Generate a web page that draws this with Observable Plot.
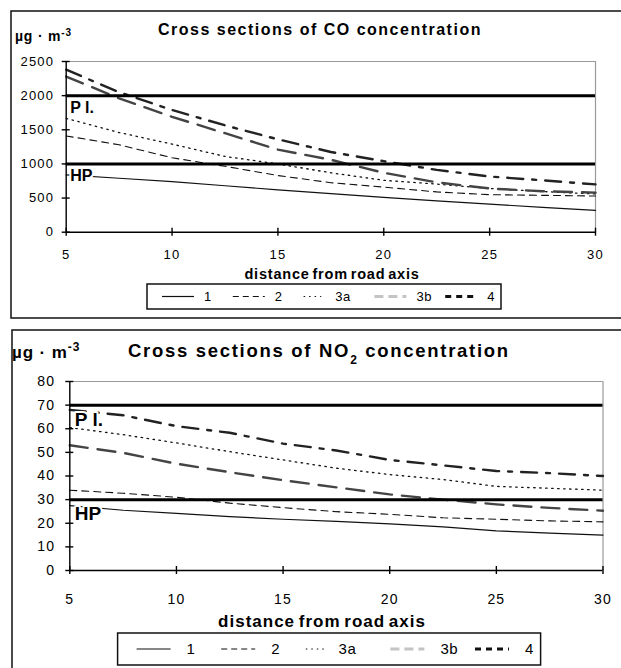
<!DOCTYPE html>
<html>
<head>
<meta charset="utf-8">
<script src="https://cdn.jsdelivr.net/npm/d3@7"></script>
<script src="https://cdn.jsdelivr.net/npm/@observablehq/plot@0.6"></script>
<style>
  html, body { margin: 0; padding: 0; background: #fff; }
  body { width: 621px; height: 668px; overflow: hidden; position: relative;
         font-family: "Liberation Sans", Arial, sans-serif; }
  .chart { position: absolute; left: 0; }
  #overlay { position: absolute; left: 0; top: 0; pointer-events: none; }
  .chart [aria-label="x-axis tick label"] text,
  .chart [aria-label="y-axis tick label"] text { letter-spacing: 1.2px; }
</style>
</head>
<body>
<div id="co" class="chart" style="top:0px"></div>
<div id="no2" class="chart" style="top:330px"></div>
<svg id="overlay" width="621" height="668"></svg>
<script>
// ---------------- data ----------------
const distance = [5, 7.5, 10, 12.5, 15, 17.5, 20, 22.5, 25, 27.5, 30];
const seriesNames = ["1", "2", "3a", "3b", "4"];

// CO concentration (µg·m-3)
const co_1  = [840, 790, 740, 680, 620, 565, 510, 460, 410, 365, 320];
const co_2  = [1410, 1280, 1090, 965, 830, 725, 660, 590, 550, 540, 530];
const co_3a = [1667, 1460, 1290, 1110, 1000, 870, 760, 705, 640, 595, 560];
const co_3b = [2280, 1960, 1690, 1450, 1210, 1060, 870, 730, 640, 600, 580];
const co_4  = [2380, 2050, 1790, 1565, 1360, 1175, 1040, 912, 815, 760, 700];

// NO2 concentration (µg·m-3)
const no2_1  = [27.5, 25.5, 24.2, 22.8, 21.7, 20.8, 19.7, 18.5, 16.8, 15.8, 15];
const no2_2  = [34, 32.7, 31, 28.5, 26.6, 24.9, 23.8, 22.3, 21.7, 21, 20.6];
const no2_3a = [60.5, 57.5, 54, 50.3, 46.8, 43.3, 40.6, 38.5, 35.6, 34.8, 34];
const no2_3b = [53, 49.8, 45.2, 41.6, 38.2, 35.2, 32.2, 30, 28, 26.5, 25.3];
const no2_4  = [68, 65.7, 61.1, 58.3, 53.7, 50.8, 46.8, 44.5, 42.1, 41.2, 40];

// limit lines
const limitLabels = ["P l.", "HP"];
const coLimits = [2000, 1000];
const no2Limits = [70, 30];

// ticks
const xTicks = [5, 10, 15, 20, 25, 30];
const coYTicks = [0, 500, 1000, 1500, 2000, 2500];
const no2YTicks = [0, 10, 20, 30, 40, 50, 60, 70, 80];

// ---------------- styles ----------------
const lineStyle = {
  "1":  {stroke: "#111", strokeWidth: 1.2},
  "2":  {stroke: "#111", strokeWidth: 1.1, strokeDasharray: "7,5"},
  "3a": {stroke: "#111", strokeWidth: 1.3, strokeDasharray: "1.5,4.5"},
  "3b": {stroke: "#444", strokeWidth: 2.4, strokeDasharray: "18,10"},
  "4":  {stroke: "#222", strokeWidth: 2.4, strokeDasharray: "16,9,4,9"}
};
const legendStyle = {
  "1":  {stroke: "#111", strokeWidth: 1.2, dash: null},
  "2":  {stroke: "#111", strokeWidth: 1.2, dash: "6,4"},
  "3a": {stroke: "#111", strokeWidth: 1.2, dash: "1.5,4"},
  "3b": {stroke: "#c4c4c4", strokeWidth: 3, dash: "9,5"},
  "4":  {stroke: "#111", strokeWidth: 3, dash: "6,5"}
};

function tidy(arrays) {
  return seriesNames.flatMap((name, i) =>
    distance.map((d, j) => ({series: name, distance: d, value: arrays[i][j]})));
}

const plain = d3.format("d");

function panel(el, cfg) {
  const rows = tidy(cfg.series);
  const limits = cfg.limits.map((v, i) => ({value: v, label: limitLabels[i]}));
  const marks = [
    Plot.ruleY([cfg.yMax], {stroke: "#999", strokeWidth: 1.2}),
    Plot.ruleX([30], {stroke: "#999", strokeWidth: 1.2}),
    ...seriesNames.map(n => Plot.line(rows.filter(r => r.series === n),
        {x: "distance", y: "value", ...lineStyle[n]})),
    Plot.ruleY(limits, {y: "value", strokeWidth: 3, stroke: "#000"}),
    Plot.text(limits, {y: "value", text: "label", frameAnchor: "left", dx: cfg.labelDx, dy: cfg.labelDy,
        textAnchor: "start", lineAnchor: "top", fontWeight: "bold", fontSize: cfg.labelSize, fill: "#000",
        stroke: "#fff", strokeWidth: 4}),
    Plot.ruleX([5], {stroke: "#000", strokeWidth: 1.4}),
    Plot.ruleY([0], {stroke: "#000", strokeWidth: 1.4}),
    Plot.axisX({ticks: xTicks, tickSize: 8, dy: -4, fill: "none", strokeWidth: 1.4, label: null}),
    Plot.axisY({ticks: cfg.yTicks, tickSize: 8, dx: 4, fill: "none", strokeWidth: 1.4, label: null}),
    Plot.axisX({ticks: xTicks, tickSize: 0, tickPadding: cfg.xPad, fontSize: cfg.tickSize, label: null,
        fill: "#000", tickFormat: plain}),
    Plot.axisY({ticks: cfg.yTicks, tickSize: 0, tickPadding: cfg.yPad, fontSize: cfg.tickSize, label: null,
        fill: "#000", tickFormat: plain})
  ];
  const chart = Plot.plot({
    width: 621, height: cfg.height,
    marginLeft: cfg.mL, marginRight: cfg.mR, marginTop: cfg.mT, marginBottom: cfg.mB,
    style: {background: "transparent", fontFamily: "Liberation Sans, Arial, sans-serif", fontSize: cfg.tickSize + "px", color: "#000"},
    x: {domain: [5, 30]},
    y: {domain: [0, cfg.yMax]},
    marks
  });
  document.getElementById(el).appendChild(chart);
}

panel("co", {
  series: [co_1, co_2, co_3a, co_3b, co_4], limits: coLimits, yTicks: coYTicks, yMax: 2500,
  height: 290, mL: 65.7, mR: 26, mT: 61, mB: 58.3,
  xPad: 18, yPad: 12, tickSize: 13, labelDx: 4, labelDy: 5.5, labelSize: 16
});
panel("no2", {
  series: [no2_1, no2_2, no2_3a, no2_3b, no2_4], limits: no2Limits, yTicks: no2YTicks, yMax: 80,
  height: 338, mL: 69.3, mR: 18.5, mT: 51, mB: 98,
  xPad: 24, yPad: 14.5, tickSize: 14, labelDx: 5, labelDy: 7, labelSize: 19
});

// ---------------- overlay: frames, titles, units, axis titles, legends ----------------
const svg = d3.select("#overlay");
const ff = "Liberation Sans, Arial, sans-serif";

function frame(x, y, w, h) {
  svg.append("rect").attr("x", x).attr("y", y).attr("width", w).attr("height", h)
    .attr("fill", "none").attr("stroke", "#111").attr("stroke-width", 1.5);
}
frame(11, 11, 640, 307);
frame(12, 330, 640, 360);

function title(x, y, size, ls, parts) {
  const t = svg.append("text").attr("x", x).attr("y", y).attr("font-family", ff)
    .attr("font-weight", "bold").attr("font-size", size).style("letter-spacing", ls + "px");
  parts.forEach(p => {
    const s = t.append("tspan").text(p.text);
    if (p.shift) s.attr("baseline-shift", p.shift).attr("font-size", p.size);
  });
}
title(158, 35, 16, 1.5, [{text: "Cross sections of CO concentration"}]);
title(128, 357, 18.5, 1.7, [{text: "Cross sections of NO"}, {text: "2", shift: "sub", size: 12}, {text: " concentration"}]);
title(15, 41, 14, 0.8, [{text: "µg · m"}, {text: "-3", shift: "super", size: 10}]);
title(12, 358, 17, 0.9, [{text: "µg · m"}, {text: "-3", shift: "super", size: 12}]);

function axisTitle(cx, y, size, ls, text) {
  svg.append("text").attr("x", cx).attr("y", y).attr("text-anchor", "middle")
    .attr("font-family", ff).attr("font-weight", "bold").attr("font-size", size)
    .style("letter-spacing", ls + "px").style("word-spacing", "-2px").text(text);
}
axisTitle(332, 279, 14.5, 0.8, "distance from road axis");
axisTitle(322, 627, 17, 1.0, "distance from road axis");

function legend(x, y, w, h, start, slot, sw, labelOff, fontSize) {
  svg.append("rect").attr("x", x).attr("y", y).attr("width", w).attr("height", h)
    .attr("fill", "#fff").attr("stroke", "#111").attr("stroke-width", 1.5);
  const cy = y + h / 2;
  seriesNames.forEach((n, i) => {
    const sx = x + start + i * slot;
    const st = legendStyle[n];
    const swW = n === "3a" ? sw * 0.55 : sw;
    svg.append("line").attr("x1", sx).attr("x2", sx + swW).attr("y1", cy).attr("y2", cy)
      .attr("stroke", st.stroke).attr("stroke-width", st.strokeWidth)
      .attr("stroke-dasharray", st.dash);
    svg.append("text").attr("x", sx + (n === "3a" ? swW + 14 : labelOff)).attr("y", cy)
      .attr("dy", "0.36em").attr("font-family", ff).attr("font-size", fontSize)
      .style("letter-spacing", "0.6px").text(n);
  });
}
legend(147, 284, 354, 25, 15, 70.8, 32, 42, 13);
legend(117.6, 633, 423, 32, 19, 84.6, 34, 50, 15);
</script>
</body>
</html>
